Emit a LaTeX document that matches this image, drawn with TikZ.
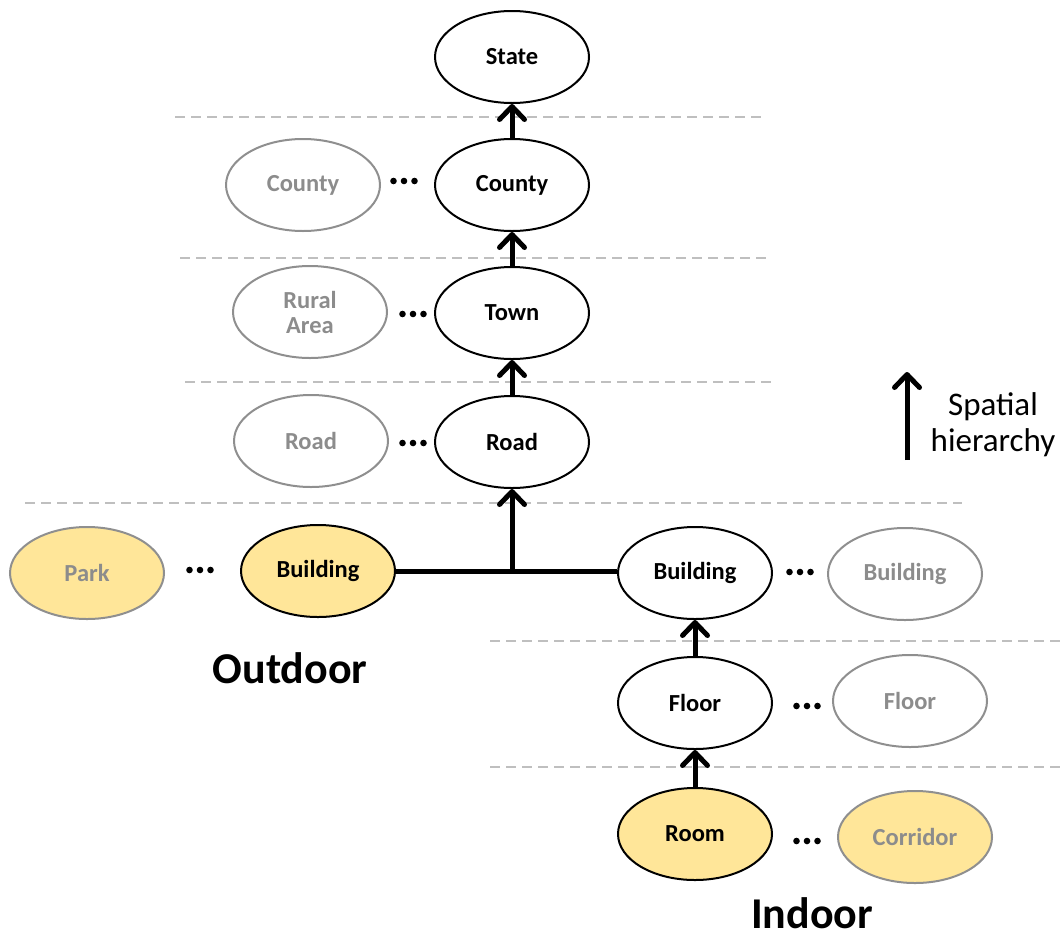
\documentclass[tikz,border=0pt]{standalone}
\usepackage{fontspec}
\setmainfont{Carlito}
\usetikzlibrary{shapes.geometric,arrows.meta}
\definecolor{yel}{HTML}{FFE699}
\definecolor{gline}{HTML}{8F8F8F}
\definecolor{gtext}{HTML}{8C8C8C}
\definecolor{dline}{HTML}{BFBFBF}
\tikzset{
  el/.style={ellipse,draw=black,line width=2pt,minimum width=154pt,minimum height=92pt,inner sep=0pt,font=\fontsize{24.5}{27}\selectfont\bfseries,align=center},
  gel/.style={el,draw=gline,text=gtext},
  yel/.style={fill=yel},
  sep/.style={draw=dline,line width=1.5pt,dash pattern=on 10pt off 6pt},
  up/.style={line width=5pt,-{Straight Barb[length=13pt,width=25pt,line cap=round,line join=round]}},
  big/.style={font=\fontsize{44}{48}\selectfont\bfseries,inner sep=0pt},
  pics/threedots/.style={code={\foreach \i in {-10.5,0,10.5} \fill (\i,0) circle[radius=3.3];}},
}
\begin{document}
\begin{tikzpicture}[x=1pt,y=-1pt]
\useasboundingbox (0,0) rectangle (1064,940);
% separators
\draw[sep] (175,117) -- (762,117);
\draw[sep] (180,258) -- (768,258);
\draw[sep] (185,382) -- (773,382);
\draw[sep] (25,503) -- (962,503);
\draw[sep] (490,641) -- (1064,641);
\draw[sep] (490,767) -- (1064,767);
% nodes
\node[el] (state) at (512,57) {State};
\node[el] (county) at (512,185) {County};
\node[gel] (countyg) at (303,185) {County};
\node[el] (town) at (512,313) {Town};
\node[gel] (rural) at (310,312) {Rural\\[-2pt]Area};
\node[el] (road) at (512,442) {Road};
\node[gel] (roadg) at (311,441) {Road};
\node[el,yel] (obuild) at (318,571) {Building};
\node[gel,yel] (park) at (87,573) {Park};
\node[el] (ibuild) at (695,573) {Building};
\node[gel] (ibuildg) at (905,574) {Building};
\node[el] (floor) at (695,703) {Floor};
\node[gel] (floorg) at (910,701) {Floor};
\node[el,yel] (room) at (695,834) {Room};
\node[gel,yel] (corr) at (915,837) {Corridor};
% dots
\pic at (404,181) {threedots};
\pic at (413,314) {threedots};
\pic at (413,443) {threedots};
\pic at (200,570) {threedots};
\pic at (800,572) {threedots};
\pic at (807,706) {threedots};
\pic at (807,841) {threedots};
% arrows
\draw[up] (county.north) -- (state.south);
\draw[up] (town.north) -- (county.south);
\draw[up] (road.north) -- (town.south);
\coordinate (junc) at (road.south |- obuild.east);
\draw[line width=5pt] (obuild.east) -- (obuild.east -| ibuild.west);
\draw[up] (junc) -- (road.south);
\draw[up] (floor.north) -- (ibuild.south);
\draw[up] (room.north) -- (floor.south);
% labels
\node[big] (out) at (290,668) {Outdoor};
\node[big] (in) at (812,913) {Indoor};
\coordinate (sa) at (907,460);
\coordinate (sb) at (907,372);
\draw[up] (sa) -- (sb);
\node[font=\fontsize{33}{36}\selectfont,align=center,inner sep=0pt] (sh) at (993,425) {Spatial\\hierarchy};
\end{tikzpicture}
\end{document}
